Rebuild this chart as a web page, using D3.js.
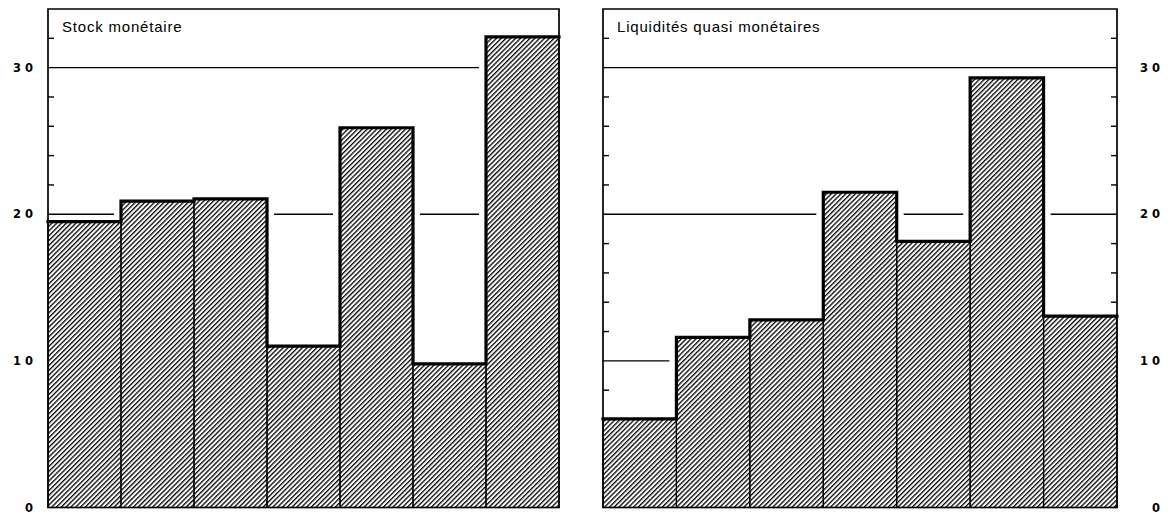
<!DOCTYPE html>
<html>
<head>
<meta charset="utf-8">
<script src="https://cdn.jsdelivr.net/npm/d3@7"></script>
<style>
  html, body { margin: 0; padding: 0; background: #fff; }
  svg { display: block; }
</style>
</head>
<body>
<svg id="chart" width="1174" height="514"></svg>
<script>
// ---- data ----
const categories = ["1", "2", "3", "4", "5", "6", "7"];
const stockValues = [19.5, 20.9, 21.05, 11.0, 25.9, 9.8, 32.1];
const liquidValues = [6.05, 11.6, 12.8, 21.5, 18.15, 29.3, 13.05];
const stockTitle = "Stock monétaire";
const liquidTitle = "Liquidités quasi monétaires";
const tickLabels = [0, 10, 20, 30];
const minorTicks = [2, 4, 6, 8, 12, 14, 16, 18, 22, 24, 26, 28, 32];
const stockGrid = [20, 30];
const liquidGrid = [10, 20, 30];
const yDomain = [0, 34];

// ---- layout ----
const svg = d3.select("#chart");
const yTop = 9, yBottom = 507.5;
const y = d3.scaleLinear().domain(yDomain).range([yBottom, yTop]);

const defs = svg.append("defs");
defs.append("pattern")
  .attr("id", "hatch")
  .attr("patternUnits", "userSpaceOnUse")
  .attr("width", 3.4).attr("height", 10)
  .attr("patternTransform", "rotate(45)")
  .append("rect")
  .attr("x", 0).attr("y", 0).attr("width", 1.3).attr("height", 10)
  .attr("fill", "#000");

const panels = [
  { x0: 48, x1: 559, values: stockValues, title: stockTitle, grid: stockGrid,
    ticksLeft: true, ticksRight: false, labelX: 33 },
  { x0: 603, x1: 1117, values: liquidValues, title: liquidTitle, grid: liquidGrid,
    ticksLeft: true, ticksRight: true, labelX: 1160 }
];

const gap = 7;
const tickLen = 6;

panels.forEach(p => {
  const x = d3.scaleBand().domain(categories).range([p.x0, p.x1]).padding(0);
  const g = svg.append("g");

  // gridlines (segments only where no taller bar is present)
  p.grid.forEach(v => {
    let runStart = null;
    const segs = [];
    categories.forEach((c, i) => {
      const free = p.values[i] < v;
      if (free && runStart === null) runStart = i;
      if ((!free || i === categories.length - 1) && runStart !== null) {
        const end = free ? i : i - 1;
        segs.push([runStart, end]);
        runStart = null;
      }
    });
    segs.forEach(([a, b]) => {
      let xa = x(categories[a]);
      let xb = x(categories[b]) + x.bandwidth();
      if (a > 0) xa += gap;
      if (b < categories.length - 1) xb -= gap;
      g.append("line")
        .attr("x1", xa).attr("x2", xb)
        .attr("y1", y(v)).attr("y2", y(v))
        .attr("stroke", "#000").attr("stroke-width", 1.4);
    });
  });

  // minor ticks
  minorTicks.forEach(v => {
    if (p.ticksLeft) {
      g.append("line")
        .attr("x1", p.x0).attr("x2", p.x0 + tickLen)
        .attr("y1", y(v)).attr("y2", y(v))
        .attr("stroke", "#000").attr("stroke-width", 1.4);
    }
    if (p.ticksRight) {
      g.append("line")
        .attr("x1", p.x1 - tickLen).attr("x2", p.x1)
        .attr("y1", y(v)).attr("y2", y(v))
        .attr("stroke", "#000").attr("stroke-width", 1.4);
    }
  });

  // bars
  g.selectAll("rect.bar")
    .data(p.values)
    .join("rect")
    .attr("class", "bar")
    .attr("x", (d, i) => x(categories[i]))
    .attr("width", x.bandwidth())
    .attr("y", d => y(d))
    .attr("height", d => y(0) - y(d))
    .attr("fill", "#fff");
  g.selectAll("rect.hatch")
    .data(p.values)
    .join("rect")
    .attr("class", "hatch")
    .attr("x", (d, i) => x(categories[i]))
    .attr("width", x.bandwidth())
    .attr("y", d => y(d))
    .attr("height", d => y(0) - y(d))
    .attr("fill", "url(#hatch)")
    .attr("stroke", "#000")
    .attr("stroke-width", 1.2);

  // frame
  g.append("path")
    .attr("d", `M${p.x0},${y(0)} V${y(yDomain[1])} H${p.x1} V${y(0)} Z`)
    .attr("fill", "none")
    .attr("stroke", "#000")
    .attr("stroke-width", 1.7);

  // thick step outline
  const stepPts = [];
  p.values.forEach((v, i) => {
    const xa = x(categories[i]);
    stepPts.push([xa, y(v)], [xa + x.bandwidth(), y(v)]);
  });
  g.append("path")
    .attr("d", d3.line()(stepPts))
    .attr("fill", "none")
    .attr("stroke", "#000")
    .attr("stroke-width", 3.2)
    .attr("stroke-linejoin", "miter")
    .attr("stroke-linecap", "square");

  // title
  g.append("text")
    .attr("x", p.x0 + 14)
    .attr("y", 32)
    .attr("font-family", "Liberation Sans, Arial, sans-serif")
    .attr("font-size", 15)
    .attr("letter-spacing", 0.8)
    .attr("fill", "#000")
    .text(p.title);

  // value labels
  tickLabels.forEach(v => {
    g.append("text")
      .attr("x", p.labelX)
      .attr("y", y(v))
      .attr("dy", "0.36em")
      .attr("dx", 4)
      .attr("text-anchor", "end")
      .attr("font-family", "DejaVu Sans, sans-serif")
      .attr("font-weight", "bold")
      .attr("font-size", 11.5)
      .attr("letter-spacing", 4)
      .attr("fill", "#000")
      .text(v);
  });
});
</script>
</body>
</html>
